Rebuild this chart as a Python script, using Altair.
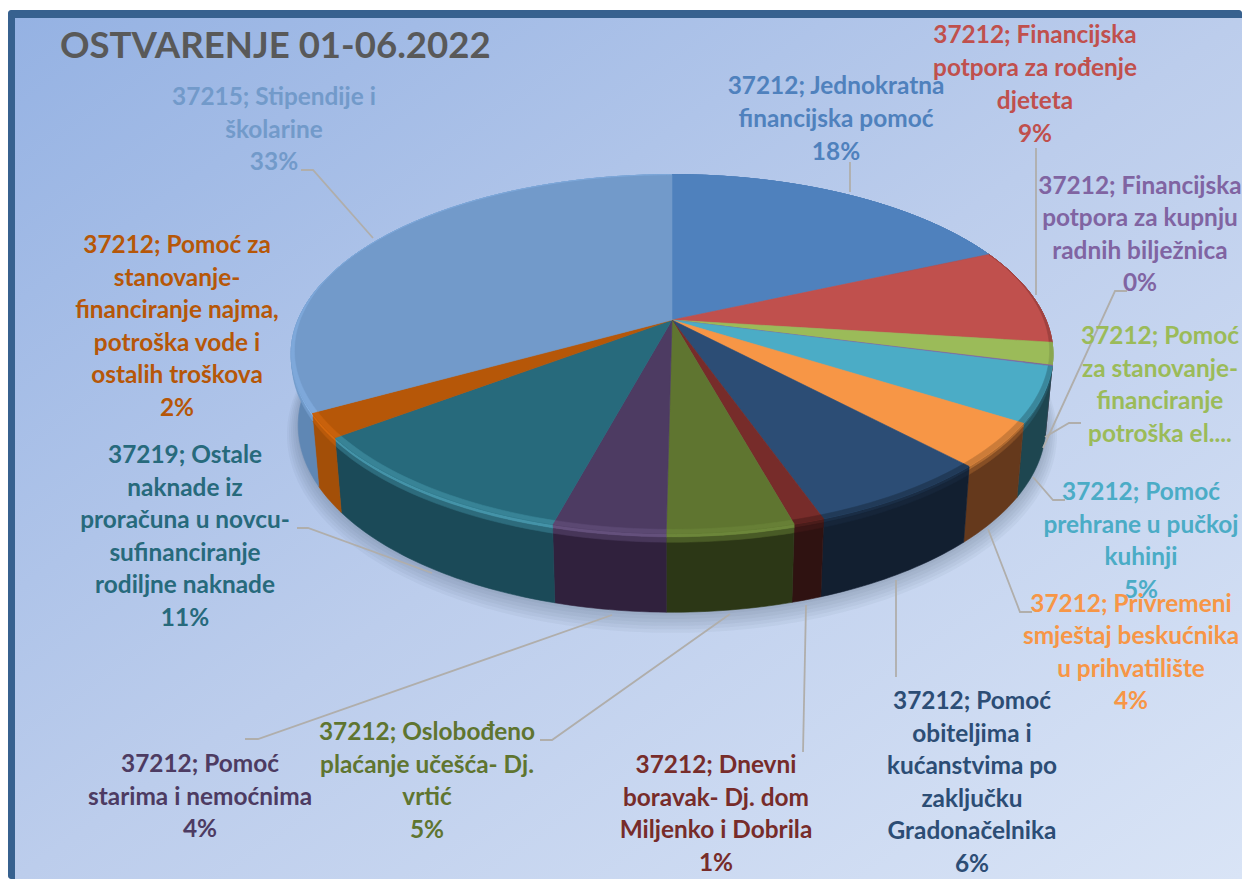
import math
import altair as alt

# ---- data ----
categories = [
    "37212; Jednokratna financijska pomoć",
    "37212; Financijska potpora za rođenje djeteta",
    "37212; Pomoć za stanovanje-financiranje potroška el....",
    "37212; Financijska potpora za kupnju radnih bilježnica",
    "37212; Pomoć prehrane u pučkoj kuhinji",
    "37212; Privremeni smještaj beskućnika u prihvatilište",
    "37212; Pomoć obiteljima i kućanstvima po zaključku Gradonačelnika",
    "37212; Dnevni boravak- Dj. dom Miljenko i Dobrila",
    "37212; Oslobođeno plaćanje učešća- Dj. vrtić",
    "37212; Pomoć starima i nemoćnima",
    "37219; Ostale naknade iz proračuna u novcu-sufinanciranje rodiljne naknade",
    "37212; Pomoć za stanovanje-financiranje najma, potroška vode i ostalih troškova",
    "37215; Stipendije i školarine",
]
shares = [18.3, 8.7, 2.0, 0.1, 4.9, 4.0, 6.6, 1.1, 4.5, 4.0, 10.5, 2.2, 33.1]
top_colors = ["#4f81bd", "#c0504d", "#9bbb59", "#8064a2", "#4bacc6", "#f79646", "#2c4d75",
              "#772c2a", "#5f7530", "#4d3b62", "#276a7c", "#b65708", "#729aca"]
wall_colors = ["#35577f", "#7d3331", "#67803a", "#54406c", "#1e4650", "#65391c", "#121f30",
               "#2f1211", "#2c3716", "#30213d", "#1b4a58", "#a34f08", "#5f87b4"]
rim_colors = ["#4f81bd", "#8a3835", "#7d9848", "#8064a2", "#2f6f80", "#b06a30", "#1a2d45",
              "#4a1c1a", "#6c863a", "#64507c", "#4493a8", "#d4680e", "#86b2e4"]

PAGE = 8
W, H = 1234, 871

# [text lines, page centre x, page y of first line, y of last line, colour]
labels = [
    (["37212; Jednokratna", "financijska pomoć", "18%"], 836, 86.5, 152.5, "#4f81bd"),
    (["37212; Financijska", "potpora za rođenje", "djeteta", "9%"], 1035, 36, 135, "#c0504d"),
    (["37212; Pomoć", "za stanovanje-", "financiranje", "potroška el...."], 1160, 337, 435, "#9bbb59"),
    (["37212; Financijska", "potpora za kupnju", "radnih bilježnica", "0%"], 1140, 187, 284, "#8064a2"),
    (["37212; Pomoć", "prehrane u pučkoj", "kuhinji", "5%"], 1141, 493, 591, "#4bacc6"),
    (["37212; Privremeni", "smještaj beskućnika", "u prihvatilište", "4%"], 1131, 605, 702, "#f79646"),
    (["37212; Pomoć", "obiteljima i", "kućanstvima po", "zaključku", "Gradonačelnika", "6%"], 972, 702, 865, "#2c4d75"),
    (["37212; Dnevni", "boravak- Dj. dom", "Miljenko i Dobrila", "1%"], 716, 766, 864, "#772c2a"),
    (["37212; Oslobođeno", "plaćanje učešća- Dj.", "vrtić", "5%"], 427, 733, 831, "#5f7530"),
    (["37212; Pomoć", "starima i nemoćnima", "4%"], 200, 765, 830, "#4d3b62"),
    (["37219; Ostale", "naknade iz", "proračuna u novcu-", "sufinanciranje", "rodiljne naknade", "11%"], 185, 456, 619, "#276a7c"),
    (["37212; Pomoć za", "stanovanje-", "financiranje najma,", "potroška vode i", "ostalih troškova", "2%"], 177, 246, 409, "#b65708"),
    (["37215; Stipendije i", "školarine", "33%"], 274, 98, 163, "#729aca"),
]
leaders = [
    [(301, 170), (313, 170), (373, 238)],
    [(850, 162), (850, 192)],
    [(1036, 148), (1036, 295)],
    [(1127, 291), (1115, 291), (1043, 448)],
    [(1081, 423), (1069, 423), (1045, 437)],
    [(1065, 500), (1053, 500), (1033, 477)],
    [(1032, 612), (1020, 612), (988, 529)],
    [(896, 580), (896, 677)],
    [(806, 605), (803, 752)],
    [(730, 614), (552, 740), (540, 740)],
    [(612, 615), (258, 739), (245, 739)],
    [(432, 573), (308, 528), (297, 528)],
]

# ---- perspective model of the disc, plot-area pixels ----
CX = 672 - PAGE
P = 0.19
TOP = dict(cy=320 - PAGE, a=173.0, b=374.0)
BOT = dict(cy=390 - PAGE, a=180.0, b=367.0)


def pt(t, r=1.0, z=0.0, grow=0.0, dy=0.0):
    a = TOP["a"] + (BOT["a"] - TOP["a"]) * z
    b = TOP["b"] + (BOT["b"] - TOP["b"]) * z
    cy = TOP["cy"] + (BOT["cy"] - TOP["cy"]) * z
    u, v = math.sin(t) * r, -math.cos(t) * r
    d = 1 - P * v
    return [CX + (b + grow) * u / d, cy + dy + (a + grow) * v / d]


def arc(t0, t1, **kw):
    n = max(2, int(abs(t1 - t0) / math.radians(1.0)))
    return [pt(t0 + (t1 - t0) * i / n, **kw) for i in range(n + 1)]


def feature(ring, fill, opacity=1.0):
    ring = ring + [ring[0]]
    return {"type": "Feature", "geometry": {"type": "Polygon", "coordinates": [ring]},
            "properties": {"fill": fill, "op": opacity}}


def mix(a, b, f):
    ca = [int(a[i:i + 2], 16) for i in (1, 3, 5)]
    cb = [int(b[i:i + 2], 16) for i in (1, 3, 5)]
    return "#%02x%02x%02x" % tuple(round(x + (y - x) * f) for x, y in zip(ca, cb))


total = sum(shares)
bounds = [0.0]
for s in shares:
    bounds.append(bounds[-1] + s / total * 2 * math.pi)

shadow, walls, tops, bands = [], [], [], []
for k in range(6):
    shadow.append(feature(arc(0, 2 * math.pi, z=1.0, grow=1 + 2 * k, dy=2 + k), "#3a4660", 0.05))

for i in range(len(shares)):
    t0, t1 = bounds[i], bounds[i + 1]
    walls.append(feature(arc(t0, t1) + arc(t1, t0, z=1.0), wall_colors[i]))
    tops.append(feature([pt(0, r=0)] + arc(t0, t1), top_colors[i]))

    n = max(2, int((t1 - t0) / math.radians(1.0)))
    ts = [t0 + (t1 - t0) * j / n for j in range(n + 1)]
    inner = [pt(t, r=1 - 0.016 * max(0.0, min(1.0, -math.cos(t) + 0.35))) for t in ts]
    rim = [pt(t) for t in ts]
    z1 = [pt(t, z=0.05) for t in ts]
    z2 = [pt(t, z=0.11) for t in ts]
    bands.append(feature(inner + rim[::-1], mix(top_colors[i], rim_colors[i], 0.6)))
    bands.append(feature(rim + z1[::-1], rim_colors[i]))
    bands.append(feature(z1 + z2[::-1], mix(rim_colors[i], wall_colors[i], 0.55)))

# ---- tables ----
text_rows = []
for lines, x, y0, y1, col in labels:
    step = (y1 - y0) / (len(lines) - 1)
    for j, line in enumerate(lines):
        text_rows.append({"x": x - PAGE, "y": y0 + j * step - PAGE, "t": line, "c": col})
leader_rows = []
for i, pts in enumerate(leaders):
    for j, (x, y) in enumerate(pts):
        leader_rows.append({"id": i, "i": j, "x": x - PAGE, "y": y - PAGE})

xs = alt.Scale(domain=[0, W], range=[0, W])
ys = alt.Scale(domain=[0, H], range=[0, H])


def geo(feats):
    return alt.Chart(alt.Data(values=feats)).mark_geoshape().encode(
        color=alt.Color("properties.fill:N", scale=None, legend=None),
        opacity=alt.Opacity("properties.op:Q", scale=None, legend=None),
    ).project(type="identity", scale=1, translate=[0, 0])


def solid(feats):
    return alt.Chart(alt.Data(values=feats)).mark_geoshape(strokeWidth=0.6).encode(
        fill=alt.Fill("properties.fill:N", scale=None, legend=None),
        stroke=alt.Stroke("properties.fill:N", scale=None, legend=None),
    ).project(type="identity", scale=1, translate=[0, 0])


border = alt.Chart(alt.Data(values=[{"a": 0}])).mark_rect(color="#37618f", cornerRadius=3).encode(
    x=alt.value(0), x2=alt.value(W), y=alt.value(2), y2=alt.value(H))
panel = alt.Chart(alt.Data(values=[{"a": 0}])).mark_rect(
    color=alt.LinearGradient(
        gradient="linear", x1=0, y1=0, x2=1, y2=1,
        stops=[alt.GradientStop(offset=0, color="#95b2e3"),
               alt.GradientStop(offset=0.5, color="#bccdec"),
               alt.GradientStop(offset=1, color="#d9e4f6")])
).encode(x=alt.value(7), x2=alt.value(W), y=alt.value(10), y2=alt.value(H))

leader_layer = alt.Chart(alt.Data(values=leader_rows)).mark_line(
    color="#b0aeab", strokeWidth=1.8, interpolate="linear"
).encode(
    x=alt.X("x:Q", scale=xs, axis=None),
    y=alt.Y("y:Q", scale=ys, axis=None),
    detail="id:N",
    order="i:Q",
)
text_layer = alt.Chart(alt.Data(values=text_rows)).mark_text(
    font="Lato", fontWeight="bold", fontSize=24.4, align="center", baseline="middle"
).encode(
    x=alt.X("x:Q", scale=xs, axis=None),
    y=alt.Y("y:Q", scale=ys, axis=None),
    text="t:N",
    color=alt.Color("c:N", scale=None, legend=None),
)
title_layer = alt.Chart(alt.Data(values=[{"x": 60 - PAGE, "y": 47 - PAGE, "t": "OSTVARENJE 01-06.2022"}])).mark_text(
    font="Lato", fontWeight="bold", fontSize=36.6, align="left", baseline="middle", color="#595959"
).encode(
    x=alt.X("x:Q", scale=xs, axis=None),
    y=alt.Y("y:Q", scale=ys, axis=None),
    text="t:N",
)

chart = alt.layer(
    border, panel,
    geo(shadow),
    solid(walls), solid(bands), solid(tops), solid([b for b in bands[0::3]]),
    leader_layer, text_layer, title_layer,
).properties(width=W, height=H, padding=0, background="white",
             autosize=alt.AutoSizeParams(type="none")).configure_view(stroke=None)

chart.save("out.html", embed_options={"renderer": "svg", "actions": False})
